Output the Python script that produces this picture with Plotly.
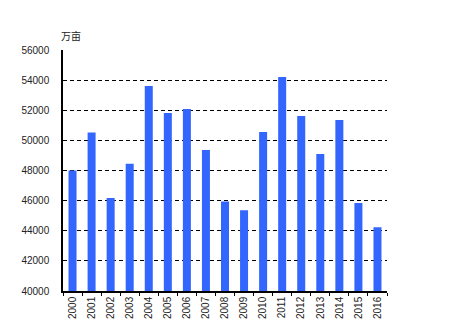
import plotly.graph_objects as go

# Cultivated area by year (unit: 万亩)
years = ["2000", "2001", "2002", "2003", "2004", "2005", "2006", "2007", "2008",
         "2009", "2010", "2011", "2012", "2013", "2014", "2015", "2016"]
area = [48000, 50530, 46170, 48440, 53610, 51820, 52080, 49360, 45950,
        45360, 50560, 54210, 51620, 49100, 51350, 45840, 44240]

y_ticks = [40000, 42000, 44000, 46000, 48000, 50000, 52000, 54000, 56000]
unit_label = "万亩"

bar_color = "#3366FF"
font_family = "Liberation Sans, Arial, sans-serif"

fig = go.Figure(
    go.Bar(
        x=years,
        y=area,
        marker=dict(color=bar_color, line=dict(width=0)),
        width=0.42,
    )
)

fig.update_layout(
    width=475,
    height=334,
    margin=dict(l=63, r=88, t=50, b=43),
    paper_bgcolor="white",
    plot_bgcolor="white",
    showlegend=False,
    font=dict(family=font_family, size=10, color="#222222"),
    annotations=[
        dict(
            text=unit_label,
            xref="paper", yref="paper",
            x=-0.012, y=1.02,
            xanchor="left", yanchor="bottom",
            showarrow=False,
            font=dict(family="Noto Sans CJK SC", size=10, color="#222222"),
        )
    ],
)

fig.update_xaxes(
    type="category",
    showline=True,
    linecolor="black",
    linewidth=1.5,
    ticks="outside",
    tickson="boundaries",
    ticklen=3,
    tickcolor="black",
    tickangle=-90,
    showgrid=False,
    tickfont=dict(size=10),
    range=[-0.5, len(years) - 0.5],
)

fig.update_yaxes(
    range=[40000, 56000],
    tickvals=y_ticks,
    ticktext=[str(v) for v in y_ticks],
    showline=True,
    linecolor="black",
    linewidth=1.5,
    ticks="inside",
    ticklen=4,
    tickcolor="black",
    showgrid=True,
    gridcolor="black",
    gridwidth=1,
    griddash="4px,3px",
    zeroline=False,
    ticklabelstandoff=10,
    tickfont=dict(size=10),
)

fig.write_html("out.html")
